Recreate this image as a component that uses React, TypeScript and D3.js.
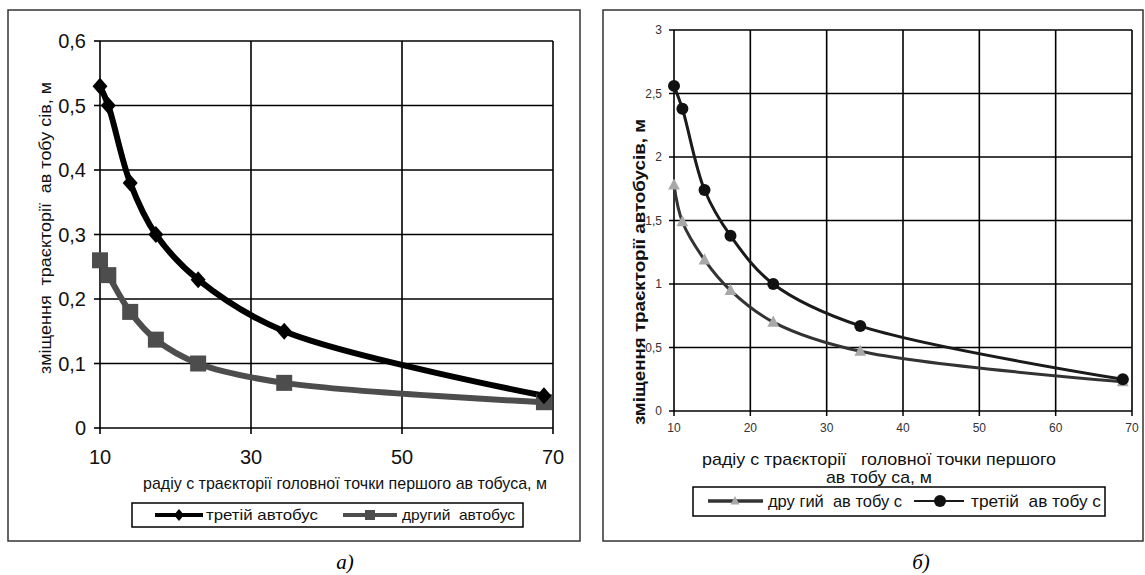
import React from "react";
import * as d3 from "d3";

// Shared x values (радіус траєкторії, м)
const radii = [10, 11.1, 14, 17.4, 23, 34.4, 68.8];

// Chart a)
const aThird = [0.53, 0.5, 0.38, 0.3, 0.23, 0.15, 0.05];
const aSecond = [0.26, 0.237, 0.18, 0.137, 0.1, 0.07, 0.04];
const aYTicks = [0, 0.1, 0.2, 0.3, 0.4, 0.5, 0.6];
const aXTicks = [10, 30, 50, 70];

// Chart б)
const bSecond = [1.78, 1.49, 1.19, 0.95, 0.7, 0.47, 0.23];
const bThird = [2.56, 2.38, 1.74, 1.38, 1.0, 0.67, 0.25];
const bYTicks = [0, 0.5, 1, 1.5, 2, 2.5, 3];
const bXTicks = [10, 20, 30, 40, 50, 60, 70];

const FONT = "'Liberation Sans', Arial, sans-serif";
const fmt = (v: number) => String(v).replace(".", ",");

function ChartA() {
  const x = d3.scaleLinear().domain([10, 70]).range([100, 553]);
  const y = d3.scaleLinear().domain([0, 0.6]).range([428, 41]);
  const line = d3
    .line<number>()
    .x((_, i) => x(radii[i]))
    .y((d) => y(d))
    .curve(d3.curveCatmullRom.alpha(0.5));
  const diamond = (cx: number, cy: number) =>
    `M${cx},${cy - 8.5}L${cx + 7.5},${cy}L${cx},${cy + 8.5}L${cx - 7.5},${cy}Z`;
  return (
    <g>
      <rect x={8} y={10} width={572} height={531} fill="white" stroke="#333" strokeWidth={1.5} />
      {aYTicks.slice(1).map((t) => (
        <line key={"gy" + t} x1={x(10)} x2={x(70)} y1={y(t)} y2={y(t)} stroke="#000" strokeWidth={1.6} />
      ))}
      {aXTicks.slice(1).map((t) => (
        <line key={"gx" + t} x1={x(t)} x2={x(t)} y1={y(0)} y2={y(0.6)} stroke="#000" strokeWidth={1.6} />
      ))}
      <line x1={x(10)} x2={x(10)} y1={y(0)} y2={y(0.6)} stroke="#000" strokeWidth={1.6} />
      <line x1={x(10)} x2={x(70)} y1={y(0)} y2={y(0)} stroke="#000" strokeWidth={1.6} />
      {aYTicks.map((t) => (
        <g key={"yt" + t}>
          <line x1={x(10) - 6} x2={x(10)} y1={y(t)} y2={y(t)} stroke="#000" strokeWidth={1.6} />
          <text x={86} y={y(t)} dy="0.35em" textAnchor="end" fontSize={20} fontFamily={FONT} fill="#111">
            {fmt(t)}
          </text>
        </g>
      ))}
      {aXTicks.map((t) => (
        <g key={"xt" + t}>
          <line x1={x(t)} x2={x(t)} y1={y(0)} y2={y(0) + 6} stroke="#000" strokeWidth={1.6} />
          <text x={x(t)} y={457} dy="0.35em" textAnchor="middle" fontSize={20} fontFamily={FONT} fill="#111">
            {t}
          </text>
        </g>
      ))}
      <path d={line(aSecond) || ""} fill="none" stroke="#4d4d4d" strokeWidth={6} />
      <path d={line(aThird) || ""} fill="none" stroke="#000" strokeWidth={6} />
      {aSecond.map((v, i) => (
        <rect key={"sq" + i} x={x(radii[i]) - 8} y={y(v) - 8} width={16} height={16} fill="#4d4d4d" />
      ))}
      {aThird.map((v, i) => (
        <path key={"dm" + i} d={diamond(x(radii[i]), y(v))} fill="#000" />
      ))}
      <text
        transform={`translate(45,228) rotate(-90)`}
        textAnchor="middle"
        dy="0.35em"
        fontSize={16}
        fontFamily={FONT}
        fill="#111"
        style={{ whiteSpace: "pre" }}
        textLength={292}
        lengthAdjust="spacingAndGlyphs"
      >
        {"зміщення  траєкторії  ав тобу сів, м"}
      </text>
      <text
        x={345}
        y={483}
        dy="0.35em"
        textAnchor="middle"
        fontSize={17}
        fontFamily={FONT}
        fill="#111"
        textLength={404}
        lengthAdjust="spacingAndGlyphs"
      >
        радіу с траєкторії головної точки першого ав тобуса, м
      </text>
      <rect x={132} y={503} width={391} height={24} fill="white" stroke="#000" strokeWidth={1.5} />
      <line x1={155} x2={203} y1={515} y2={515} stroke="#000" strokeWidth={4} />
      <path d={`M179,509L184,515L179,521L174,515Z`} fill="#000" />
      <text x={206} y={515} dy="0.35em" fontSize={15} fontFamily={FONT} fill="#111" textLength={112} lengthAdjust="spacingAndGlyphs">
        третій автобус
      </text>
      <line x1={343} x2={397} y1={515} y2={515} stroke="#4d4d4d" strokeWidth={4} />
      <rect x={365} y={510} width={10} height={10} fill="#4d4d4d" />
      <text
        x={402}
        y={515}
        dy="0.35em"
        fontSize={15}
        fontFamily={FONT}
        fill="#111"
        style={{ whiteSpace: "pre" }}
        textLength={113}
        lengthAdjust="spacingAndGlyphs"
      >
        {"другий  автобус"}
      </text>
      <text x={345} y={562} dy="0.35em" textAnchor="middle" fontSize={21} fontStyle="italic" fontFamily="'Liberation Serif', 'Times New Roman', serif">
        а)
      </text>
    </g>
  );
}

function ChartB() {
  const x = d3.scaleLinear().domain([10, 70]).range([674, 1132]);
  const y = d3.scaleLinear().domain([0, 3]).range([411, 30]);
  const line = d3
    .line<number>()
    .x((_, i) => x(radii[i]))
    .y((d) => y(d))
    .curve(d3.curveCatmullRom.alpha(0.5));
  const tri = (cx: number, cy: number, s: number) =>
    `M${cx},${cy - s}L${cx + s * 0.9},${cy + s * 0.7}L${cx - s * 0.9},${cy + s * 0.7}Z`;
  return (
    <g>
      <rect x={603} y={10} width={540} height={531} fill="white" stroke="#333" strokeWidth={1.5} />
      {bYTicks.slice(1).map((t) => (
        <line key={"gy" + t} x1={x(10)} x2={x(70)} y1={y(t)} y2={y(t)} stroke="#000" strokeWidth={1.6} />
      ))}
      {bXTicks.slice(1).map((t) => (
        <line key={"gx" + t} x1={x(t)} x2={x(t)} y1={y(0)} y2={y(3)} stroke="#000" strokeWidth={1.6} />
      ))}
      <line x1={x(10)} x2={x(10)} y1={y(0)} y2={y(3)} stroke="#000" strokeWidth={1.6} />
      <line x1={x(10)} x2={x(70)} y1={y(0)} y2={y(0)} stroke="#000" strokeWidth={1.6} />
      {bYTicks.map((t) => (
        <g key={"yt" + t}>
          <line x1={x(10) - 5} x2={x(10)} y1={y(t)} y2={y(t)} stroke="#000" strokeWidth={1.5} />
          <text x={662} y={y(t)} dy="0.35em" textAnchor="end" fontSize={12} fontFamily={FONT} fill="#333">
            {fmt(t)}
          </text>
        </g>
      ))}
      {bXTicks.map((t) => (
        <g key={"xt" + t}>
          <line x1={x(t)} x2={x(t)} y1={y(0)} y2={y(0) + 5} stroke="#000" strokeWidth={1.5} />
          <text x={x(t)} y={428} dy="0.35em" textAnchor="middle" fontSize={12} fontFamily={FONT} fill="#333">
            {t}
          </text>
        </g>
      ))}
      <path d={line(bSecond) || ""} fill="none" stroke="#333" strokeWidth={3} />
      <path d={line(bThird) || ""} fill="none" stroke="#1a1a1a" strokeWidth={3} />
      {bSecond.map((v, i) => (
        <path key={"tr" + i} d={tri(x(radii[i]), y(v), 6.5)} fill="#a8a8a8" />
      ))}
      {bThird.map((v, i) => (
        <circle key={"c" + i} cx={x(radii[i])} cy={y(v)} r={6} fill="#111" />
      ))}
      <text
        transform={`translate(639,272) rotate(-90)`}
        textAnchor="middle"
        dy="0.35em"
        fontSize={16}
        fontWeight="bold"
        fontFamily={FONT}
        fill="#111"
        textLength={306}
        lengthAdjust="spacingAndGlyphs"
      >
        зміщення траєкторії автобусів, м
      </text>
      <text
        x={879}
        y={459}
        dy="0.35em"
        textAnchor="middle"
        fontSize={17}
        fontFamily={FONT}
        fill="#111"
        style={{ whiteSpace: "pre" }}
        textLength={354}
        lengthAdjust="spacingAndGlyphs"
      >
        {"радіу с траєкторії   головної точки першого"}
      </text>
      <text x={879} y={477} dy="0.35em" textAnchor="middle" fontSize={17} fontFamily={FONT} fill="#111" textLength={106} lengthAdjust="spacingAndGlyphs">
        ав тобу са, м
      </text>
      <rect x={693} y={487} width={412} height={29} fill="white" stroke="#000" strokeWidth={1.5} />
      <line x1={708} x2={763} y1={501} y2={501} stroke="#333" strokeWidth={3.5} />
      <path d={tri(735, 501, 5)} fill="#a8a8a8" />
      <text
        x={768}
        y={501}
        dy="0.35em"
        fontSize={17}
        fontFamily={FONT}
        fill="#111"
        style={{ whiteSpace: "pre" }}
        textLength={134}
        lengthAdjust="spacingAndGlyphs"
      >
        {"дру гий  ав тобу с"}
      </text>
      <line x1={914} x2={964} y1={501} y2={501} stroke="#1a1a1a" strokeWidth={2} />
      <circle cx={940} cy={501} r={6} fill="#111" />
      <text
        x={971}
        y={501}
        dy="0.35em"
        fontSize={17}
        fontFamily={FONT}
        fill="#111"
        style={{ whiteSpace: "pre" }}
        textLength={130}
        lengthAdjust="spacingAndGlyphs"
      >
        {"третій  ав тобу с"}
      </text>
      <text x={921} y={562} dy="0.35em" textAnchor="middle" fontSize={21} fontStyle="italic" fontFamily="'Liberation Serif', 'Times New Roman', serif">
        б)
      </text>
    </g>
  );
}

export default function App() {
  return (
    <svg
      width={1145}
      height={575}
      viewBox="0 0 1145 575"
      style={{ position: "absolute", left: 0, top: 0, background: "white" }}
    >
      <rect x={0} y={0} width={1145} height={575} fill="white" />
      <ChartA />
      <ChartB />
    </svg>
  );
}
